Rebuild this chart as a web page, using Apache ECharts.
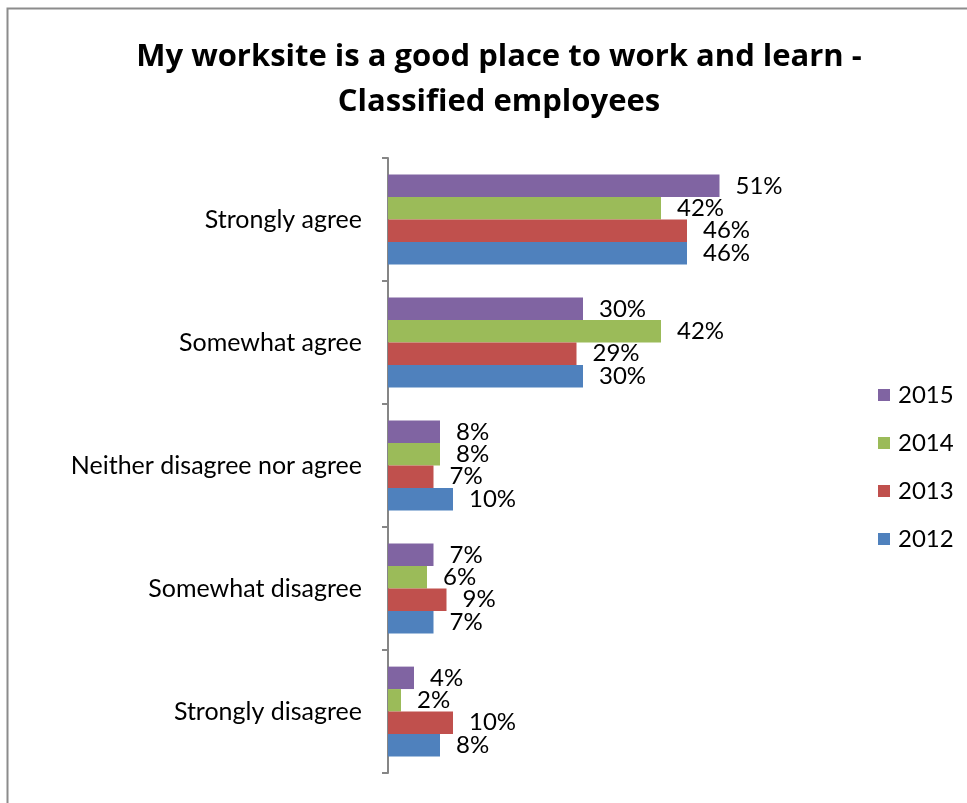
<!DOCTYPE html>
<html>
<head>
<meta charset="utf-8">
<script src="https://cdn.jsdelivr.net/npm/echarts@6/dist/echarts.min.js"></script>
<style>
  html, body { margin: 0; padding: 0; background: #fff; }
  #chart { width: 967px; height: 803px; }
</style>
</head>
<body>
<div id="chart"></div>
<script>
// Survey responses, percent of classified employees
const categories = ['Strongly agree', 'Somewhat agree', 'Neither disagree nor agree', 'Somewhat disagree', 'Strongly disagree'];
const years = ['2015', '2014', '2013', '2012'];
const values2015 = [51, 30, 8, 7, 4];
const values2014 = [42, 42, 8, 6, 2];
const values2013 = [46, 29, 7, 9, 10];
const values2012 = [46, 30, 10, 7, 8];
const seriesValues = [values2015, values2014, values2013, values2012];
const colors = ['#8064A2', '#9BBB59', '#C0504D', '#4F81BD'];

const FONT = 'Lato, "Open Sans", sans-serif';
const TITLE_FONT = '"Open Sans", Lato, sans-serif';

const chart = echarts.init(document.getElementById('chart'), null, { renderer: 'canvas' });

chart.setOption({
  animation: false,
  backgroundColor: '#ffffff',
  title: {
    text: 'My worksite is a good place to work and learn -\nClassified employees',
    left: 494,
    top: 30,
    textAlign: 'center',
    textStyle: {
      fontFamily: TITLE_FONT,
      fontWeight: 'bold',
      fontSize: 31,
      lineHeight: 45,
      color: '#000'
    }
  },
  legend: {
    orient: 'vertical',
    left: 878,
    top: 383,
    padding: 0,
    itemWidth: 12,
    itemHeight: 12,
    itemGap: 24,
    icon: 'rect',
    data: years,
    textStyle: { fontFamily: FONT, fontSize: 24, lineHeight: 24, color: '#000', padding: [0, 0, 0, 3] }
  },
  grid: {
    left: 388,
    top: 158,
    width: 390,
    bottom: 30,
    containLabel: false
  },
  xAxis: {
    type: 'value',
    min: 0,
    max: 60,
    show: false,
    splitLine: { show: false }
  },
  yAxis: {
    type: 'category',
    inverse: true,
    data: categories,
    axisLine: { show: true, lineStyle: { color: '#868686', width: 2 } },
    axisTick: { show: true, length: 6, lineStyle: { color: '#868686', width: 2 } },
    axisLabel: { fontFamily: FONT, fontSize: 25, color: '#000', margin: 26 }
  },
  graphic: [{
    type: 'rect',
    shape: { x: 7.5, y: 8.5, width: 1000, height: 1000 },
    style: { fill: 'none', stroke: '#8c8c8c', lineWidth: 2 },
    silent: true
  }],
  series: years.map((y, i) => ({
    name: y,
    type: 'bar',
    data: seriesValues[i],
    barGap: '0%',
    barCategoryGap: '27%',
    itemStyle: { color: colors[i] },
    label: {
      show: true,
      position: 'right',
      distance: 16,
      formatter: p => p.value + '%',
      fontFamily: FONT,
      fontSize: 24,
      color: '#000'
    }
  }))
});
</script>
</body>
</html>
